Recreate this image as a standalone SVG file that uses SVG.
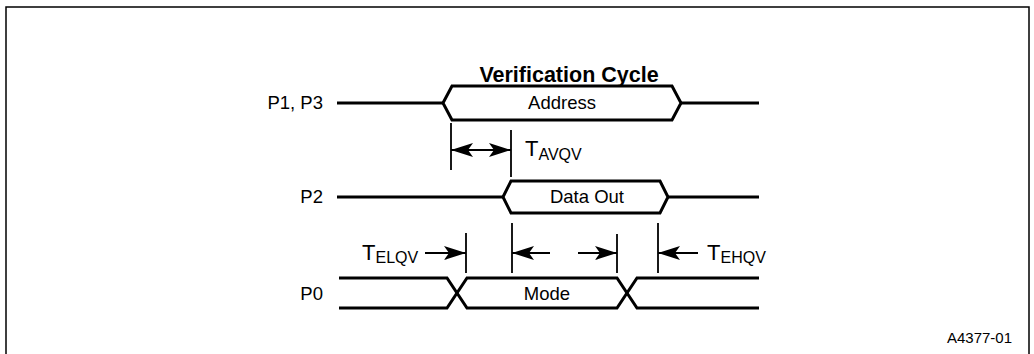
<svg xmlns="http://www.w3.org/2000/svg" width="1034" height="354" viewBox="0 0 1034 354">
<style>
.sig{fill:none;stroke:#000;stroke-width:3;stroke-linejoin:miter}
.tick{stroke:#000;stroke-width:1.8}
.dim{stroke:#000;stroke-width:1.8;fill:none}
.lbl{font-family:"Liberation Sans",Arial,sans-serif;font-size:18.5px;fill:#000}
.t{font-family:"Liberation Sans",Arial,sans-serif;font-size:22px;fill:#000}
.sub{font-size:16px}
.title{font-family:"Liberation Sans",Arial,sans-serif;font-size:21.5px;font-weight:bold;fill:#000}
</style>
<defs>
<marker id="ah" viewBox="0 0 22 14" refX="22" refY="7" markerWidth="22" markerHeight="14" markerUnits="userSpaceOnUse" orient="auto-start-reverse">
<path d="M0,0 L22,7 L0,14 L5,7 Z" fill="#000"/>
</marker>
</defs>
<rect width="1034" height="354" fill="#fff"/>
<path d="M6,354 L6,7 L1029,7 L1029,354" fill="none" stroke="#000" stroke-width="1.5"/>
<text class="title" x="569" y="82" text-anchor="middle">Verification Cycle</text>

<g id="p1p3">
<text class="lbl" x="323" y="109" text-anchor="end">P1, P3</text>
<path class="sig" d="M337,103 L443,103 M681,103 L759,103"/>
<path class="sig" d="M443,103 L452,86 L672,86 L681,103 L672,120 L452,120 Z"/>
<text class="lbl" x="562" y="109" text-anchor="middle">Address</text>
</g>

<g id="p2">
<text class="lbl" x="323" y="203" text-anchor="end">P2</text>
<path class="sig" d="M337,197 L503,197 M668,197 L759,197"/>
<path class="sig" d="M503,197 L511,181 L660,181 L668,197 L660,213 L511,213 Z"/>
<text class="lbl" x="587" y="203" text-anchor="middle">Data Out</text>
</g>

<g id="p0">
<text class="lbl" x="323" y="300" text-anchor="end">P0</text>
<path class="sig" d="M339,278 L447,278 L467,308 L617,308 L637,278 L759,278"/>
<path class="sig" d="M339,308 L447,308 L467,278 L617,278 L637,308 L759,308"/>
<text class="lbl" x="547" y="300" text-anchor="middle">Mode</text>
</g>

<g id="connectors">
<line class="tick" x1="451" y1="123" x2="451" y2="170"/>
<line class="tick" x1="511" y1="130" x2="511" y2="177"/>
<line class="dim" x1="451" y1="150" x2="511" y2="150" marker-start="url(#ah)" marker-end="url(#ah)"/>
<line class="tick" x1="466" y1="233" x2="466" y2="273"/>
<line class="tick" x1="512" y1="223" x2="512" y2="273"/>
<line class="tick" x1="617" y1="234" x2="617" y2="273"/>
<line class="tick" x1="658" y1="223" x2="658" y2="273"/>
<line class="dim" x1="425" y1="253" x2="466" y2="253" marker-end="url(#ah)"/>
<line class="dim" x1="550" y1="253" x2="512" y2="253" marker-end="url(#ah)"/>
<line class="dim" x1="578" y1="253" x2="617" y2="253" marker-end="url(#ah)"/>
<line class="dim" x1="698" y1="253" x2="658" y2="253" marker-end="url(#ah)"/>
</g>

<g id="labels">
<text class="t" x="525" y="156">T<tspan class="sub" dy="4">AVQV</tspan></text>
<text class="t" x="362" y="260">T<tspan class="sub" dy="3">ELQV</tspan></text>
<text class="t" x="707" y="260">T<tspan class="sub" dy="3">EHQV</tspan></text>
</g>
<text class="lbl" x="1012" y="343" text-anchor="end" style="font-size:15px">A4377-01</text>
</svg>
